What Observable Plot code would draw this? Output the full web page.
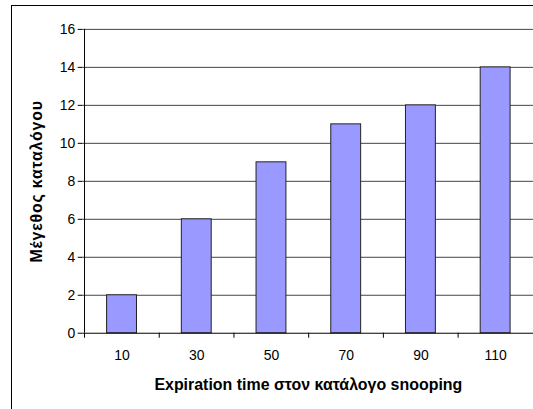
<!DOCTYPE html>
<html><head><meta charset="utf-8">
<script src="https://cdn.jsdelivr.net/npm/d3@7"></script>
<script src="https://cdn.jsdelivr.net/npm/@observablehq/plot@0.6"></script>
<style>
html,body{margin:0;padding:0;overflow:hidden;background:#fff;width:533px;height:409px}
#chart{position:absolute;left:0;top:0}
#border{position:absolute;left:11px;top:5px;width:560px;height:460px;border:1px solid #000;pointer-events:none}
</style></head><body>
<div id="chart"></div><div id="border"></div>
<script>
const categories = ["10", "30", "50", "70", "90", "110"];
const values = [2, 6, 9, 11, 12, 14];
const yTicks = [0, 2, 4, 6, 8, 10, 12, 14, 16];
const xTitle = "Expiration time στον κατάλογο snooping";
const yTitle = "Μέγεθος καταλόγου";

const data = categories.map((c, i) => ({cat: c, value: values[i]}));
const W = 535, H = 409, mL = 83, mR = 0, mT = 29, mB = 75;
const step = (W - mL - mR) / categories.length;
const font = "'Liberation Sans', Arial, sans-serif";

const chart = Plot.plot({
  width: W, height: H,
  marginLeft: mL, marginRight: mR, marginTop: mT, marginBottom: mB,
  style: {fontFamily: font, fontSize: "14px", background: "transparent", color: "#000", overflow: "visible"},
  x: {type: "band", domain: categories, paddingInner: 0.6, paddingOuter: 0.3, label: null},
  y: {domain: [0, 16], label: null},
  marks: [
    Plot.ruleY(yTicks.filter(v => v > 0), {y: d => d, stroke: "#444", strokeWidth: 1}),
    Plot.barY(data, {x: "cat", y: "value", fill: "#9999FF", stroke: "#222", strokeWidth: 1}),
    Plot.ruleY([0], {y: d => d, stroke: "#000"}),
    Plot.ruleX([categories[0]], {x: d => d, dx: -step / 2, stroke: "#000"}),
    Plot.ruleX(categories, {x: d => d, y1: () => 0, y2: () => 0, insetBottom: -5, dx: -step / 2, stroke: "#000"}),
    Plot.axisY(yTicks, {tickSize: 5, tickPadding: 3, label: null, fontSize: 14}),
    Plot.axisX(categories, {tickSize: 0, tickPadding: 17, label: null, fontSize: 14}),
    Plot.text([yTitle], {text: d => d, frameAnchor: "left", textAnchor: "middle", lineAnchor: "middle", dx: -46, rotate: -90, fontWeight: "bold", fontSize: 16}),
    Plot.text([xTitle], {text: d => d, frameAnchor: "bottom", textAnchor: "middle", lineAnchor: "middle", dy: 52, fontWeight: "bold", fontSize: 16})
  ]
});
chart.querySelectorAll("text").forEach(t => {
  if (t.textContent === yTitle) t.style.letterSpacing = "0.8px";
});
document.getElementById("chart").appendChild(chart);
</script>
</body></html>
